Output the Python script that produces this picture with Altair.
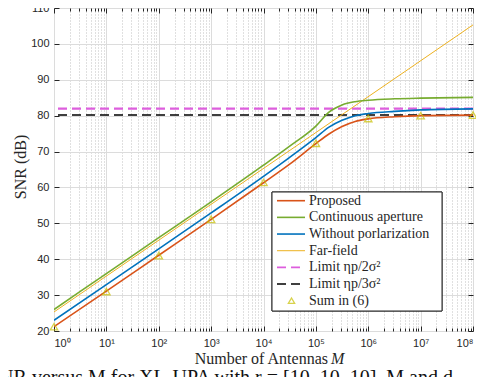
import altair as alt
import pandas as pd

# ---------------- data ----------------
M_pts = [1, 10, 100, 1e3, 1e4, 3.162e4, 1e5, 1.778e5, 3.162e5, 5.623e5, 1e6, 3.162e6, 1e7, 1e8]
proposed = [21.2, 31.1, 41.1, 51.1, 61.3, 66.5, 72.2, 74.9, 77.0, 78.4, 79.1, 79.7, 80.0, 80.15]
without_pol = [23.0, 32.9, 42.9, 52.9, 63.1, 68.4, 73.9, 76.8, 78.7, 80.0, 80.6, 81.2, 81.6, 81.9]
continuous = [26.0, 36.0, 46.0, 56.0, 66.2, 71.5, 77.1, 81.0, 83.0, 83.9, 84.3, 84.7, 84.9, 85.1]
far_M = [1, 1e8]
far_field = [25.3, 105.3]
limit_2 = [81.96]
limit_3 = [80.2]
sum_M = [1, 10, 100, 1e3, 1e4, 1e5, 1e6, 1e7, 1e8]
sum6 = [21.2, 31.0, 41.0, 51.1, 61.4, 72.3, 79.2, 80.0, 80.15]

legend_names = ["Proposed", "Continuous aperture", "Without porlarization", "Far-field",
                "Limit ηp/2σ²", "Limit ηp/3σ²", "Sum in (6)"]
legend_kind = ["solid", "solid", "solid", "thin", "dash", "dash", "tri"]
colors = ["#D95319", "#77AC30", "#0072BD", "#EDB120", "#DD5EDD", "#000000", "#C8C000"]

x_major = [10 ** k for k in range(0, 9)]
x_minor = [m * 10 ** k for k in range(0, 8) for m in range(2, 10)]
y_major = list(range(20, 111, 10))

W, H = 419, 323
XS = alt.Scale(type="log", domain=[1, 1e8], nice=False)
YS = alt.Scale(domain=[20, 110], nice=False)
SANS = "Liberation Sans"
SERIF = "Liberation Serif"
INK = "#262626"

dummy = pd.DataFrame({"M": [1, 1e8], "v": [20, 110]})


def axis_layer(xaxis, yaxis):
    return alt.Chart(dummy).mark_point(opacity=0).encode(
        x=alt.X("M:Q", scale=XS, axis=xaxis),
        y=alt.Y("v:Q", scale=YS, axis=yaxis),
    )


sup = "['⁰','¹','²','³','⁴','⁵','⁶','⁷','⁸']"
main_axes = axis_layer(
    alt.Axis(orient="bottom", values=x_major, grid=True, gridColor="#DCDCDC", gridWidth=1,
             ticks=False, domain=False, labelFont=SANS, labelFontSize=11, labelColor=INK,
             labelPadding=6, title=None,
             labelExpr="'10' + " + sup + "[round(log(datum.value)/LN10)]"),
    alt.Axis(orient="left", values=y_major, grid=True, gridColor="#DCDCDC", gridWidth=1,
             ticks=False, domain=False, labelFont=SANS, labelFontSize=11, labelColor=INK,
             labelPadding=5, title=None),
)
minor_grid = axis_layer(
    alt.Axis(orient="bottom", values=x_minor, grid=True, gridColor="#B0B0B0", gridWidth=0.8,
             gridDash=[1, 2], ticks=False, domain=False, labels=False, title=None),
    None,
)


def tick_axis(orient, vals, size):
    return alt.Axis(orient=orient, values=vals, grid=False, ticks=True, tickSize=size,
                    tickColor=INK, tickWidth=1, offset=-size, domain=False, labels=False,
                    title=None)


ticks1 = axis_layer(tick_axis("bottom", x_major, 5), tick_axis("left", y_major, 5))
ticks2 = axis_layer(tick_axis("top", x_major, 5), tick_axis("right", y_major, 5))
ticks3 = axis_layer(tick_axis("bottom", x_minor, 3), None)
ticks4 = axis_layer(tick_axis("top", x_minor, 3), None)


def series(xs, ys, color, width, dash=None):
    df = pd.DataFrame({"M": xs, "v": ys})
    kw = dict(color=color, strokeWidth=width, interpolate="monotone", clip=True)
    if dash:
        kw["strokeDash"] = dash
    return alt.Chart(df).mark_line(**kw).encode(
        x=alt.X("M:Q", scale=XS, axis=None), y=alt.Y("v:Q", scale=YS, axis=None))


def hline(val, color, width, dash):
    return alt.Chart(pd.DataFrame({"v": val})).mark_rule(
        color=color, strokeWidth=width, strokeDash=dash).encode(
        y=alt.Y("v:Q", scale=YS, axis=None))


lim2 = hline(limit_2, colors[4], 2.2, [9, 5])
lim3 = hline(limit_3, colors[5], 1.4, [9, 5])
far = series(far_M, far_field, colors[3], 1.0)
cont = series(M_pts, continuous, colors[1], 1.6)
wop = series(M_pts, without_pol, colors[2], 1.6)
prop = series(M_pts, proposed, colors[0], 1.6)
tri = alt.Chart(pd.DataFrame({"M": sum_M, "v": sum6})).mark_point(
    shape="triangle-up", size=55, filled=False, color=colors[6], strokeWidth=1.3).encode(
    x=alt.X("M:Q", scale=XS, axis=None), y=alt.Y("v:Q", scale=YS, axis=None))

# ---------------- legend ----------------
leg_df = pd.DataFrame({"label": legend_names, "kind": legend_kind, "color": colors,
                       "row": list(range(len(legend_names)))})
leg_base = alt.Chart(leg_df).transform_calculate(py="192.7 + datum.row * 16.67")
leg_box = alt.Chart(dummy).mark_rect(fill="white", stroke=INK, strokeWidth=1).encode(
    x=alt.value(218), x2=alt.value(388), y=alt.value(184), y2=alt.value(303))
leg_solid = leg_base.transform_filter("datum.kind == 'solid'").mark_rule(strokeWidth=1.6).encode(
    x=alt.value(223), x2=alt.value(251), y=alt.Y("py:Q", scale=None),
    color=alt.Color("color:N", scale=None))
leg_thin = leg_base.transform_filter("datum.kind == 'thin'").mark_rule(strokeWidth=1.0).encode(
    x=alt.value(223), x2=alt.value(251), y=alt.Y("py:Q", scale=None),
    color=alt.Color("color:N", scale=None))
leg_dash = leg_base.transform_filter("datum.kind == 'dash'").mark_rule(
    strokeWidth=1.6, strokeDash=[9, 5]).encode(
    x=alt.value(223), x2=alt.value(251), y=alt.Y("py:Q", scale=None),
    color=alt.Color("color:N", scale=None))
leg_tri = leg_base.transform_filter("datum.kind == 'tri'").mark_point(
    shape="triangle-up", size=40, filled=False, strokeWidth=1.3).encode(
    x=alt.value(237.5), y=alt.Y("py:Q", scale=None), color=alt.Color("color:N", scale=None))
leg_text = leg_base.mark_text(align="left", baseline="middle", font=SERIF, fontSize=14,
                              color=INK).encode(
    x=alt.value(255), y=alt.Y("py:Q", scale=None), text="label:N")

# ---------------- titles ----------------
title_df = pd.DataFrame({"t": ["SNR (dB)"]})
ytitle = alt.Chart(title_df).mark_text(angle=270, align="center", baseline="middle",
                                       font=SERIF, fontSize=16, color=INK).encode(
    x=alt.value(-33), y=alt.value(159), text="t:N")
xt1 = alt.Chart(pd.DataFrame({"t": ["Number of Antennas"]})).mark_text(
    align="right", baseline="alphabetic", font=SERIF, fontSize=16, color=INK).encode(
    x=alt.value(274), y=alt.value(356), text="t:N")
xt2 = alt.Chart(pd.DataFrame({"t": ["M"]})).mark_text(
    align="left", baseline="alphabetic", font=SERIF, fontSize=16, fontStyle="italic",
    color=INK).encode(x=alt.value(277), y=alt.value(356), text="t:N")
caption = alt.Chart(pd.DataFrame({"t": ["SNR versus M for XL-UPA with r = [10, 10, 10], M and d"]})).mark_text(
    align="left", baseline="top", font=SERIF, fontSize=20, color="#111111").encode(
    x=alt.value(-66), y=alt.value(360), text="t:N")

chart = alt.layer(
    minor_grid, main_axes, lim2, lim3, far, cont, wop, prop, tri,
    ticks1, ticks2, ticks3, ticks4,
    leg_box, leg_solid, leg_thin, leg_dash, leg_tri, leg_text,
    ytitle, xt1, xt2, caption,
).resolve_scale(x="independent", y="independent", color="independent").resolve_axis(
    x="independent", y="independent").properties(
    width=W, height=H,
    autosize=alt.AutoSizeParams(type="none"),
    padding={"left": 46, "top": 0, "right": 3, "bottom": 46},
).configure_view(stroke=INK, strokeWidth=1).configure(background="white")

chart.save("out.html", embed_options={"renderer": "svg", "actions": False})
